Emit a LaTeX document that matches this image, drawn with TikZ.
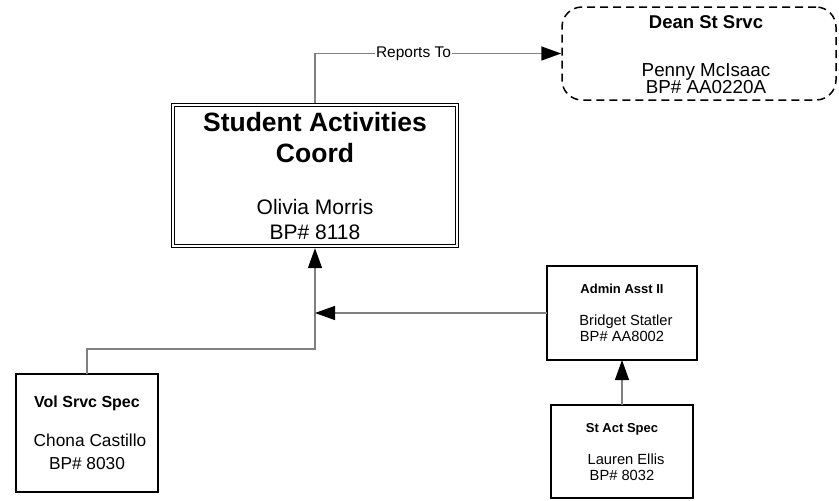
\documentclass[tikz,border=0pt]{standalone}
\usepackage{fontspec}
\setmainfont{Liberation Sans}
\usetikzlibrary{arrows.meta}
\begin{document}
\begin{tikzpicture}[x=1pt,y=-1pt,
  box/.style={draw=black, line width=2pt, rectangle, inner sep=0pt, outer sep=0pt},
  conn/.style={draw=black!50, line width=1.5pt},
  tip/.style={-{Triangle[length=20pt,width=14pt,color=black]}},
  lbl/.style={inner sep=0pt, anchor=base}]
\useasboundingbox (0,0) rectangle (839,501);

% boxes
\node[draw=black, line width=1.4pt, double=white, double distance=1.6pt, rectangle, inner sep=0pt, outer sep=2.2pt,
      minimum width=284pt, minimum height=141pt] (main) at (315,175.5) {};
\node[draw=black, line width=1.5pt, dash pattern=on 8pt off 5pt, rounded corners=20pt, rectangle, inner sep=0pt,
      minimum width=274pt, minimum height=93pt] (dean) at (699,53.5) {};
\node[box, minimum width=142pt, minimum height=118pt] (vol) at (87,433) {};
\node[box, minimum width=150pt, minimum height=94pt] (admin) at (622,313) {};
\node[box, minimum width=142pt, minimum height=93pt] (stact) at (622,451.5) {};

% texts
\node[lbl, font=\fontsize{26.5}{30}\selectfont\bfseries] (t1) at (315,131) {Student Activities};
\node[lbl, font=\fontsize{26.5}{30}\selectfont\bfseries] (t2) at (315,162) {Coord};
\node[lbl, font=\fontsize{21}{24}\selectfont] (t3) at (315,214) {Olivia Morris};
\node[lbl, font=\fontsize{21}{24}\selectfont] (t4) at (315,239) {BP\# 8118};

\node[lbl, font=\fontsize{18.5}{21}\selectfont\bfseries] (d1) at (706,28) {Dean St Srvc};
\node[lbl, font=\fontsize{18.8}{22}\selectfont] (d2) at (706,76) {Penny McIsaac};
\node[lbl, font=\fontsize{18.8}{22}\selectfont] (d3) at (706,93) {BP\# AA0220A};

\node[lbl, font=\fontsize{16}{19}\selectfont\bfseries] (v1) at (87,407) {Vol Srvc Spec};
\node[lbl, font=\fontsize{17.3}{20}\selectfont] (v2) at (90,446) {Chona Castillo};
\node[lbl, font=\fontsize{17.3}{20}\selectfont] (v3) at (87,469) {BP\# 8030};

\node[lbl, font=\fontsize{13}{15}\selectfont\bfseries] (a1) at (622,293) {Admin Asst II};
\node[lbl, font=\fontsize{14.7}{17}\selectfont] (a2) at (626,325) {Bridget Statler};
\node[lbl, font=\fontsize{14.7}{17}\selectfont] (a3) at (622,341) {BP\# AA8002};

\node[lbl, font=\fontsize{13}{15}\selectfont\bfseries] (s1) at (622,432) {St Act Spec};
\node[lbl, font=\fontsize{14.7}{17}\selectfont] (s2) at (626,464) {Lauren Ellis};
\node[lbl, font=\fontsize{14.7}{17}\selectfont] (s3) at (622,480) {BP\# 8032};

% connectors
\draw[conn, tip] (main.north) |- (dean.west)
  node[pos=0.70, fill=white, inner sep=1pt, text=black, font=\fontsize{15.5}{18}\selectfont] (rt) {Reports To};
\draw[conn, tip] (vol.north) -- ++(0,-25) -| (main.south);
\draw[conn, line width=1.2pt, tip] (admin.west) -- (main.south |- admin.west);
\draw[conn, line width=1.2pt, tip] (stact.north) -- (admin.south);
\end{tikzpicture}
\end{document}
